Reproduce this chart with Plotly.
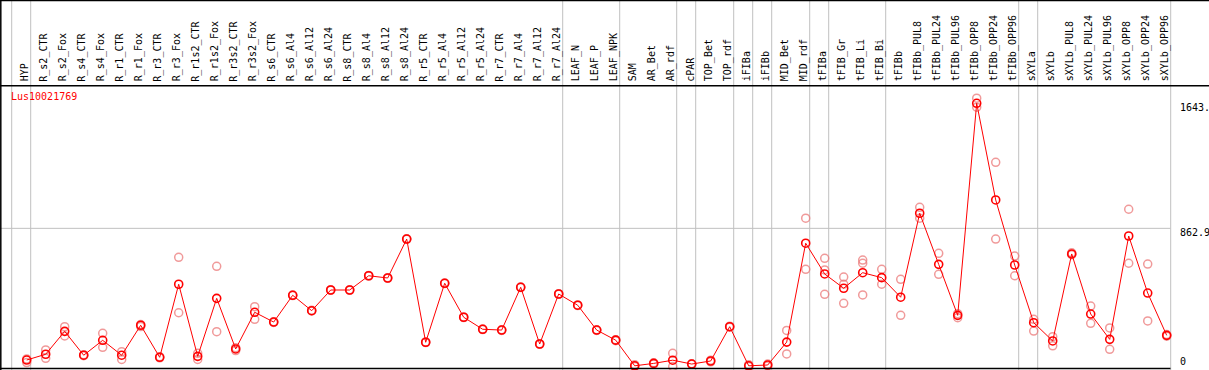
import plotly.graph_objects as go

# ---- data ----
categories = [
    "HYP", "R_s2_CTR", "R_s2_Fox", "R_s4_CTR", "R_s4_Fox", "R_r1_CTR", "R_r1_Fox",
    "R_r3_CTR", "R_r3_Fox", "R_r1s2_CTR", "R_r1s2_Fox", "R_r3s2_CTR", "R_r3s2_Fox",
    "R_s6_CTR", "R_s6_Al4", "R_s6_Al12", "R_s6_Al24", "R_s8_CTR", "R_s8_Al4",
    "R_s8_Al12", "R_s8_Al24", "R_r5_CTR", "R_r5_Al4", "R_r5_Al12", "R_r5_Al24",
    "R_r7_CTR", "R_r7_Al4", "R_r7_Al12", "R_r7_Al24", "LEAF_N", "LEAF_P", "LEAF_NPK",
    "SAM", "AR_Bet", "AR_rdf", "cPAR", "TOP_Bet", "TOP_rdf", "iFIBa", "iFIBb",
    "MID_Bet", "MID_rdf", "tFIBa", "tFIB_Gr", "tFIB_Li", "tFIB_Bi", "tFIBb",
    "tFIBb_PUL8", "tFIBb_PUL24", "tFIBb_PUL96", "tFIBb_OPP8", "tFIBb_OPP24",
    "tFIBb_OPP96", "sXYLa", "sXYLb", "sXYLb_PUL8", "sXYLb_PUL24", "sXYLb_PUL96",
    "sXYLb_OPP8", "sXYLb_OPP24", "sXYLb_OPP96",
]

means = [41, 77, 220, 71, 164, 71, 258, 58, 514, 64, 426, 110, 339, 278, 445, 349,
         478, 478, 567, 553, 796, 152, 520, 308, 233, 228, 495, 141, 453, 383, 228,
         165, 5, 20, 40, 16, 35, 249, 5, 10, 153, 770, 578, 489, 586, 555, 433, 957,
         638, 320, 1643, 1040, 634, 274, 160, 703, 328, 170, 815, 459, 195]

rep_a = [48, 104, 249, 74, 208, 93, 262, 62, 682, 83, 626, 118, 374, 280, 447, 351,
         480, 480, 569, 555, 798, 154, 522, 310, 235, 230, 497, 143, 455, 385, 230,
         168, 12, 24, 83, 18, 40, 252, 12, 16, 226, 926, 676, 559, 665, 607, 545, 994,
         707, 330, 1675, 1275, 690, 295, 187, 710, 378, 241, 982, 640, 200]

rep_b = [25, 52, 191, 68, 120, 45, 250, 55, 336, 45, 218, 100, 295, 276, 443, 347,
         476, 476, 565, 551, 794, 150, 518, 306, 231, 226, 493, 139, 451, 381, 226,
         162, 0, 16, 0, 14, 30, 246, 0, 4, 79, 607, 603, 514, 645, 514, 320, 926,
         576, 305, 1619, 796, 567, 222, 130, 698, 270, 108, 645, 285, 190]

rep_c = [None] * 42 + [451, 395, 447] + [None] * 16

# group starts (category index) where grey separators are drawn
group_starts = [0, 1, 29, 32, 35, 36, 38, 39, 40, 42, 43, 46, 53, 54, 61]

y_labels = [1643, 862.9, 0]
y_label_text = ["1643.", "862.9", "0"]
gene = "Lus10021769"

# ---- figure ----
W, H = 1209, 370
x = list(range(len(categories)))
FONT = "DejaVu Sans Mono"
RED = "#ff0000"
PINK = "rgba(235,120,120,0.75)"
GREY = "#c0c0c0"

xr = [-1.4053, 62.226]
yr = [-21.2, 2287.8]

fig = go.Figure()

# replicates
for reps in (rep_a, rep_b, rep_c):
    fig.add_trace(go.Scatter(
        x=x, y=reps, mode="markers",
        marker=dict(symbol="circle-open", size=8, color=PINK, line=dict(width=1.5, color=PINK)),
        hoverinfo="skip", showlegend=False))

# means
fig.add_trace(go.Scatter(
    x=x, y=means, mode="lines+markers",
    line=dict(color=RED, width=1),
    marker=dict(symbol="circle-open", size=8, color=RED, line=dict(width=1.6, color=RED)),
    showlegend=False))

shapes = []
# vertical group separators
for g in group_starts:
    shapes.append(dict(type="line", xref="x", yref="paper", x0=g - 0.79, x1=g - 0.79,
                       y0=0, y1=1, line=dict(color=GREY, width=1), layer="below"))
# horizontal gridline at mid label
right_px = 1170.5 / W
shapes.append(dict(type="line", xref="paper", yref="y", x0=0, x1=right_px,
                   y0=y_labels[1], y1=y_labels[1], line=dict(color=GREY, width=1), layer="below"))
# frame lines
shapes += [
    dict(type="line", xref="paper", yref="paper", x0=0, x1=1, y0=1 - 0.5 / H, y1=1 - 0.5 / H,
         line=dict(color="black", width=1.5)),
    dict(type="line", xref="paper", yref="paper", x0=0, x1=1, y0=1 - 85.7 / H, y1=1 - 85.7 / H,
         line=dict(color="black", width=1.5)),
    dict(type="line", xref="paper", yref="paper", x0=0, x1=right_px, y0=1 - 368.5 / H, y1=1 - 368.5 / H,
         line=dict(color="black", width=1.5)),
    dict(type="line", xref="paper", yref="paper", x0=0.8 / W, x1=0.8 / W, y0=0, y1=1,
         line=dict(color="black", width=1.5)),
]

annotations = []
for i, name in enumerate(categories):
    annotations.append(dict(
        x=i, y=1 - 83.5 / H, xref="x", yref="paper", text=name, showarrow=False,
        textangle=-90, xanchor="center", yanchor="bottom", xshift=-2,
        font=dict(family=FONT, size=10, color="black")))

for v, t in zip(y_labels, y_label_text):
    shift = 5 if v == 0 else -4
    annotations.append(dict(
        x=1178 / W, y=v, xref="paper", yref="y", text=t, showarrow=False,
        xanchor="left", yanchor="middle", yshift=shift,
        font=dict(family=FONT, size=10, color="black")))

annotations.append(dict(
    x=9 / W, y=1 - 96.7 / H, xref="paper", yref="paper", text=gene, showarrow=False,
    xanchor="left", yanchor="middle", font=dict(family=FONT, size=10, color=RED)))

fig.update_layout(
    width=W, height=H,
    margin=dict(l=0, r=0, t=0, b=0),
    paper_bgcolor="white", plot_bgcolor="white",
    xaxis=dict(range=xr, visible=False, fixedrange=True),
    yaxis=dict(range=yr, visible=False, fixedrange=True),
    shapes=shapes, annotations=annotations,
    showlegend=False,
)

fig.write_html(
    "out.html",
    config={"displayModeBar": False},
    post_script="document.body.style.margin='0';document.body.style.padding='0';"
                "document.documentElement.style.overflow='hidden';",
)
